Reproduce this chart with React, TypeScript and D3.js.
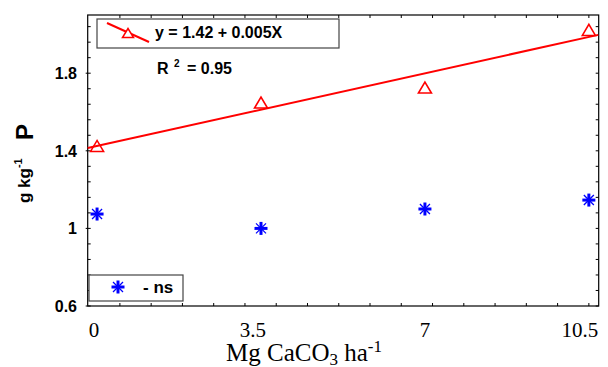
import React from "react";
import * as d3 from "d3";

const xValues = [0, 3.5, 7, 10.5];
const xTickLabels = ["0", "3.5", "7", "10.5"];
const pValues = [1.425, 1.649, 1.726, 2.023];
const nsValues = [1.074, 1.0, 1.1, 1.146];
const yTickLabels = [0.6, 1, 1.4, 1.8];
const regIntercept = 1.425;
const regSlope = 0.0535;
const equationText = "y = 1.42 + 0.005X";
const r2Value = "= 0.95";
const nsLabel = "- ns";

const W = 608;
const H = 367;
const L = 87.7, R = 598.7, T = 15, B = 306;

export default function App() {
  const x = d3.scaleLinear().domain([-0.2, 10.71]).range([L, R]);
  const y = d3.scaleLinear().domain([0.6, 2.1]).range([B, T]);

  const yMinor = d3.range(0, 19).map((k) => 0.6 + 0.08 * k).filter((v) => v < 2.09);
  const xMinor = d3.range(1, 17).map((k) => -0.18 + 0.6675 * k);

  const regX = [-0.2, 10.7];
  const line = d3
    .line<number>()
    .x((d) => x(d))
    .y((d) => y(regIntercept + regSlope * d));

  const tri = (cx: number, cy: number, w = 13, h = 11) =>
    `M${cx - w / 2},${cy + h / 2}L${cx + w / 2},${cy + h / 2}L${cx},${cy - h / 2}Z`;

  const star = (cx: number, cy: number, key: string) => (
    <g key={key}>
      <line x1={cx - 6.5} x2={cx + 6.5} y1={cy} y2={cy} stroke="#0000ff" strokeWidth={3} />
      <line x1={cx} x2={cx} y1={cy - 6.5} y2={cy + 6.5} stroke="#0000ff" strokeWidth={3} />
      <line x1={cx - 5} x2={cx + 5} y1={cy - 5} y2={cy + 5} stroke="#0000ff" strokeWidth={1.3} />
      <line x1={cx - 5} x2={cx + 5} y1={cy + 5} y2={cy - 5} stroke="#0000ff" strokeWidth={1.3} />
    </g>
  );

  const labelDx = [-3, -8, 0, -9];
  const sans = "Arial, 'Liberation Sans', sans-serif";
  const serif = "'Times New Roman', 'Liberation Serif', serif";

  return (
    <svg width={W} height={H} style={{ position: "absolute", left: 0, top: 0 }}>
      <rect x={0} y={0} width={W} height={H} fill="#fff" />
      {/* minor ticks */}
      {yMinor.map((v, i) => (
        <g key={"ym" + i}>
          <line x1={L} x2={L + 3} y1={y(v)} y2={y(v)} stroke="#000" />
          <line x1={R} x2={R - 3} y1={y(v)} y2={y(v)} stroke="#000" />
        </g>
      ))}
      {xMinor.map((v, i) => (
        <g key={"xm" + i}>
          <line x1={x(v)} x2={x(v)} y1={B} y2={B - 3} stroke="#000" />
          <line x1={x(v)} x2={x(v)} y1={T} y2={T + 3} stroke="#000" />
        </g>
      ))}
      {yTickLabels.map((v) => (
        <line key={"yt" + v} x1={L - 2} x2={L} y1={y(v)} y2={y(v)} stroke="#000" />
      ))}
      <rect x={L} y={T} width={R - L} height={B - T} fill="none" stroke="#000" strokeWidth={1.2} />

      {/* y tick labels */}
      {yTickLabels.map((v) => (
        <text key={"yl" + v} x={77} y={y(v)} dy="0.36em" textAnchor="end" fontFamily={sans} fontWeight="bold" fontSize={16}>
          {String(v)}
        </text>
      ))}

      {/* x tick labels */}
      {xValues.map((v, i) => (
        <text key={"xl" + i} x={x(v) + labelDx[i]} y={337} textAnchor="middle" fontFamily={serif} fontSize={21}>
          {xTickLabels[i]}
        </text>
      ))}

      {/* x title */}
      <text x={304} y={361} textAnchor="middle" fontFamily={serif} fontSize={25}>
        Mg CaCO<tspan fontSize={17} dy={4}>3</tspan>
        <tspan dy={-4}> ha</tspan>
        <tspan fontSize={17} dy={-9}>-1</tspan>
      </text>

      {/* y title */}
      <text transform="translate(30,203) rotate(-90)" fontFamily={sans} fontWeight="bold" fontSize={17}>
        g kg<tspan fontSize={11} dy={-8}>-1</tspan>
      </text>
      <text transform="translate(33,140) rotate(-90)" fontFamily={sans} fontWeight="bold" fontSize={24}>
        P
      </text>

      {/* regression line */}
      <path d={line(regX) || ""} fill="none" stroke="#ff0000" strokeWidth={2} />

      {/* P markers */}
      {xValues.map((v, i) => (
        <path key={"p" + i} d={tri(x(v), y(pValues[i]))} fill="none" stroke="#ff0000" strokeWidth={1.6} />
      ))}
      {/* ns markers */}
      {xValues.map((v, i) => star(x(v), y(nsValues[i]), "s" + i))}

      {/* legend 1 */}
      <rect x={97} y={19} width={242} height={29} fill="#fff" stroke="#444" strokeWidth={1.2} />
      <line x1={107} y1={23} x2={149} y2={42} stroke="#ff0000" strokeWidth={2} />
      <path d={tri(128, 33, 11, 9)} fill="#fff" stroke="#ff0000" strokeWidth={1.5} />
      <text x={155} y={38} fontFamily={sans} fontWeight="bold" fontSize={16}>
        {equationText}
      </text>
      <text x={157} y={74} fontFamily={sans} fontWeight="bold" fontSize={16}>R</text>
      <text x={174} y={67} fontFamily={sans} fontWeight="bold" fontSize={10}>2</text>
      <text x={187} y={74} fontFamily={sans} fontWeight="bold" fontSize={16}>{r2Value}</text>

      {/* legend 2 */}
      <rect x={89} y={275} width={94} height={26} fill="#fff" stroke="#444" strokeWidth={1.2} />
      {star(118, 287, "ls")}
      <text x={143} y={293} fontFamily={sans} fontWeight="bold" fontSize={17}>
        {nsLabel}
      </text>
    </svg>
  );
}
